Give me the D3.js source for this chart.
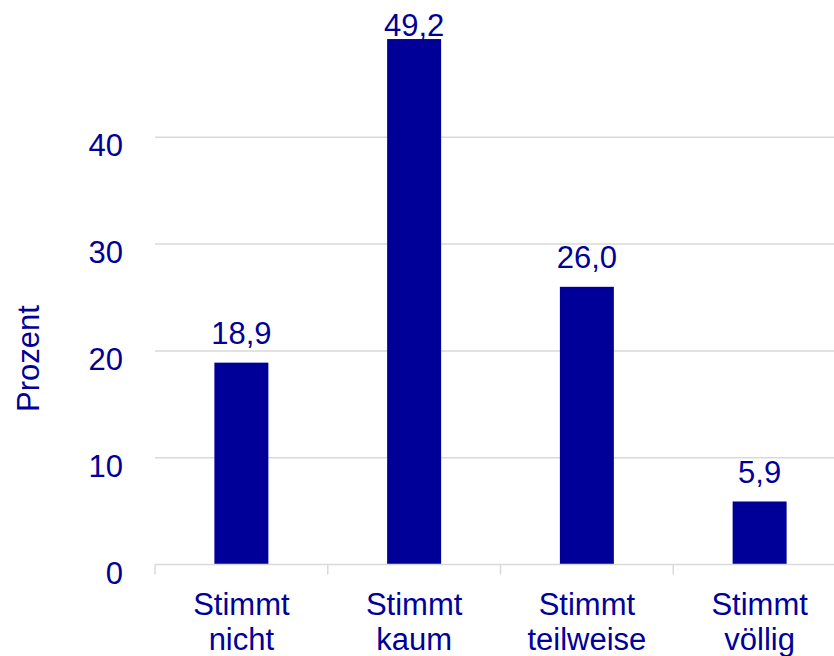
<!DOCTYPE html>
<html>
<head>
<meta charset="utf-8">
<script src="https://cdn.jsdelivr.net/npm/d3@7"></script>
<style>
  html, body { margin: 0; padding: 0; background: #fff; }
  svg { display: block; }
  text { font-family: "Liberation Sans", Arial, sans-serif; fill: #000099; }
</style>
</head>
<body>
<svg id="chart" width="834" height="656"></svg>
<script>
const categories = ["Stimmt nicht", "Stimmt kaum", "Stimmt teilweise", "Stimmt völlig"];
const categoryLines = [["Stimmt", "nicht"], ["Stimmt", "kaum"], ["Stimmt", "teilweise"], ["Stimmt", "völlig"]];
const values = [18.9, 49.2, 26.0, 5.9];
const valueLabels = ["18,9", "49,2", "26,0", "5,9"];
const yTicks = [0, 10, 20, 30, 40];
const yTitle = "Prozent";

(function () {
const W = 834, H = 656;
const mLeft = 155, mRight = 846, mTop = 30.5, mBottom = 564.5;
const fontSize = 31;
const color = "#000099";
const gridColor = "#d9d9d9";

const svg = d3.select("#chart");

const x = d3.scaleBand().domain(categories).range([mLeft, mRight]).padding(0);
const y = d3.scaleLinear().domain([0, 50]).range([mBottom, mTop]);
const barW = x.bandwidth() * 0.3125;

// gridlines
svg.append("g").selectAll("line").data(yTicks.filter(d => d > 0)).join("line")
  .attr("x1", mLeft).attr("x2", W)
  .attr("y1", d => y(d)).attr("y2", d => y(d))
  .attr("stroke", gridColor).attr("stroke-width", 1.5);

// y tick labels
svg.append("g").selectAll("text").data(yTicks).join("text")
  .attr("x", 123).attr("y", d => y(d) + 19)
  .attr("text-anchor", "end")
  .attr("font-size", fontSize)
  .text(d => d);

// bars
svg.append("g").selectAll("rect").data(values).join("rect")
  .attr("x", (d, i) => x(categories[i]) + (x.bandwidth() - barW) / 2)
  .attr("width", barW)
  .attr("y", d => y(d))
  .attr("height", d => y(0) - y(d))
  .attr("fill", color);

// x baseline and ticks
svg.append("line")
  .attr("x1", mLeft).attr("x2", W)
  .attr("y1", y(0)).attr("y2", y(0))
  .attr("stroke", gridColor).attr("stroke-width", 1.5);
svg.append("g").selectAll("line").data(categories).join("line")
  .attr("x1", d => x(d)).attr("x2", d => x(d))
  .attr("y1", y(0)).attr("y2", y(0) + 10)
  .attr("stroke", gridColor).attr("stroke-width", 1.5);

// value labels
svg.append("g").selectAll("text").data(values).join("text")
  .attr("x", (d, i) => x(categories[i]) + x.bandwidth() / 2)
  .attr("y", d => Math.max(y(d) - 18.5, 35.7))
  .attr("text-anchor", "middle")
  .attr("font-size", fontSize)
  .text((d, i) => valueLabels[i]);

// category labels
const cl = svg.append("g").selectAll("text").data(categories).join("text")
  .attr("text-anchor", "middle")
  .attr("font-size", fontSize);
cl.each(function (d, i) {
  const t = d3.select(this);
  categoryLines[i].forEach((line, j) => {
    t.append("tspan")
      .attr("x", x(d) + x.bandwidth() / 2)
      .attr("y", 615 + j * 35)
      .text(line);
  });
});

// y title
svg.append("text")
  .attr("transform", "translate(39,358.5) rotate(-90)")
  .attr("text-anchor", "middle")
  .attr("font-size", fontSize)
  .text(yTitle);
})();
</script>
</body>
</html>
